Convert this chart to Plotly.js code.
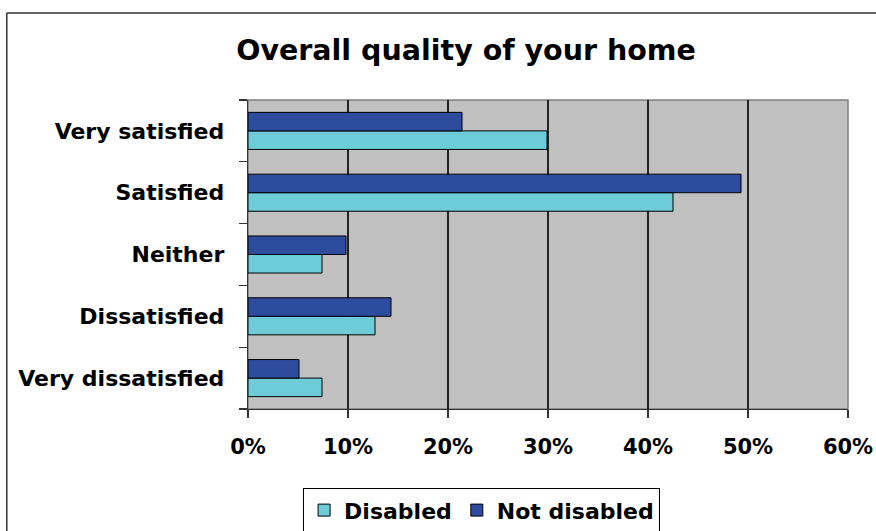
<!DOCTYPE html>
<html>
<head>
<meta charset="utf-8">
<script src="https://cdn.plot.ly/plotly-3.0.1.min.js"></script>
<style>html,body{margin:0;padding:0;background:#fff;}#chart{width:876px;height:531px;}</style>
</head>
<body>
<div id="chart"></div>
<script>
var categories = ["Very satisfied", "Satisfied", "Neither", "Dissatisfied", "Very dissatisfied"];
var disabled = [29.9, 42.5, 7.4, 12.7, 7.4];
var notDisabled = [21.4, 49.3, 9.8, 14.3, 5.1];
var xTickVals = [0, 10, 20, 30, 40, 50, 60];
var xTickText = ["0%", "10%", "20%", "30%", "40%", "50%", "60%"];

var fontFam = "DejaVu Sans, Arial, sans-serif";
var traces = [
  {type: "bar", orientation: "h", name: "Disabled", y: categories, x: disabled,
   marker: {color: "#6ECCD9", line: {color: "#000000", width: 1}}},
  {type: "bar", orientation: "h", name: "Not disabled", y: categories, x: notDisabled,
   marker: {color: "#2E4C9E", line: {color: "#000000", width: 1}}}
];

var layout = {
  width: 876, height: 531,
  margin: {l: 248, r: 28, t: 100, b: 122, autoexpand: false},
  paper_bgcolor: "#ffffff",
  plot_bgcolor: "#C0C0C0",
  barmode: "group",
  bargap: 0.4,
  bargroupgap: 0,
  showlegend: true,
  title: {text: "Overall quality of your home", x: 0.532, xref: "container", xanchor: "center",
          y: 48, yref: "container", yanchor: "middle",
          font: {family: fontFam, size: 28.5, weight: "bold", color: "#000"}},
  xaxis: {range: [0, 60], tickvals: xTickVals, ticktext: xTickText,
          showgrid: true, gridcolor: "#222222", gridwidth: 1.3,
          zeroline: false, showline: true, linecolor: "#333333", linewidth: 1.3,
          ticks: "outside", ticklen: 8, tickcolor: "#333333", tickwidth: 1.3,
          ticklabelstandoff: 10,
          tickfont: {family: fontFam, size: 21, weight: "bold", color: "#000"}},
  yaxis: {type: "category", categoryorder: "array", categoryarray: categories.slice().reverse(),
          showgrid: false, showline: true, linecolor: "#333333", linewidth: 1.3,
          ticks: "outside", tickson: "boundaries", ticklen: 8, tickcolor: "#333333", tickwidth: 1.3,
          ticklabelstandoff: 18,
          tickfont: {family: fontFam, size: 22, weight: "bold", color: "#000"}},
  legend: {orientation: "h", x: 0.389, xanchor: "center", y: -0.256, yanchor: "top",
           bordercolor: "#000000", borderwidth: 1.2, bgcolor: "#ffffff",
           traceorder: "normal",
           font: {family: fontFam, size: 22, weight: "bold", color: "#000"}},
  shapes: [
    {type: "rect", xref: "paper", yref: "paper", x0: 0, x1: 1, y0: 0, y1: 1,
     line: {color: "#808080", width: 1.5}, layer: "below"},
    {type: "line", xref: "paper", yref: "paper", x0: -0.402, x1: -0.402, y0: -0.5, y1: 1.2816,
     line: {color: "#333333", width: 1.5}},
    {type: "line", xref: "paper", yref: "paper", x0: -0.402, x1: 1.1, y0: 1.2816, y1: 1.2816,
     line: {color: "#333333", width: 1.5}}
  ]
};

Plotly.newPlot("chart", traces, layout, {displayModeBar: false, staticPlot: true});
</script>
</body>
</html>
